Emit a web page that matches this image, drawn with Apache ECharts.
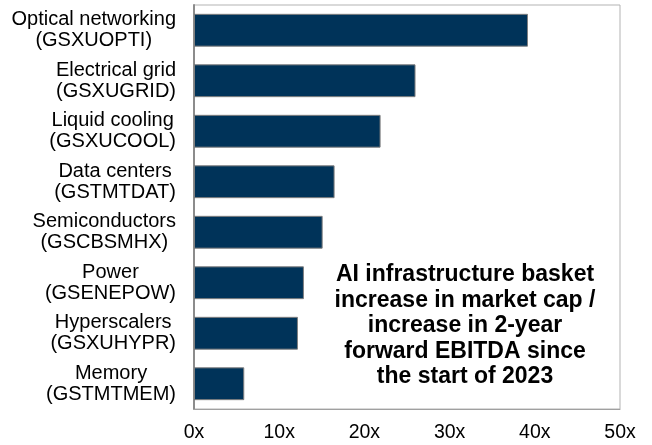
<!DOCTYPE html>
<html>
<head>
<meta charset="utf-8">
<script src="https://cdn.jsdelivr.net/npm/echarts@6/dist/echarts.min.js"></script>
<style>html,body{margin:0;padding:0;background:#fff}#c{width:652px;height:445px}</style>
</head>
<body>
<div id="c"></div>
<script>
const categories = ['Optical networking', 'Electrical grid', 'Liquid cooling', 'Data centers', 'Semiconductors', 'Power', 'Hyperscalers', 'Memory'];
const tickers = ['(GSXUOPTI)', '(GSXUGRID)', '(GSXUCOOL)', '(GSTMTDAT)', '(GSCBSMHX)', '(GSENEPOW)', '(GSXUHYPR)', '(GSTMTMEM)'];
const values = [39.2, 26.0, 21.9, 16.5, 15.1, 12.9, 12.2, 5.9];
const xTicks = { min: 0, max: 50, interval: 10, suffix: 'x' };
const annotation = ['AI infrastructure basket', 'increase in market cap /', 'increase in 2-year', 'forward EBITDA since', 'the start of 2023'];

const chart = echarts.init(document.getElementById('c'), null, { renderer: 'canvas' });
const labels = categories.map((c, i) => c + '\n' + tickers[i]);
chart.setOption({
  animation: false,
  grid: { left: 194, top: 5, right: 32, bottom: 36, show: true, borderColor: '#b3b3b3', borderWidth: 1, containLabel: false },
  xAxis: {
    type: 'value', min: xTicks.min, max: xTicks.max, interval: xTicks.interval,
    axisLine: { show: true, lineStyle: { color: '#a0a0a0', width: 1 } },
    axisTick: { show: false },
    splitLine: { show: false },
    axisLabel: { formatter: v => v + xTicks.suffix, color: '#000', fontSize: 19.5, fontFamily: 'Liberation Sans, Arial, sans-serif', margin: 14 }
  },
  yAxis: {
    type: 'category', data: labels, inverse: true,
    axisLine: { show: true, lineStyle: { color: '#8c8c8c', width: 2 } },
    axisTick: { show: false },
    axisLabel: {
      margin: 18, align: 'right',
      formatter: v => v.split('\n').map(s => '{a|' + s + '}').join('\n'),
      rich: { a: { align: 'center', fontSize: 20, lineHeight: 21, color: '#000', fontFamily: 'Liberation Sans, Arial, sans-serif' } }
    }
  },
  series: [{
    type: 'bar', data: values, barCategoryGap: '35%',
    itemStyle: { color: '#003359', borderColor: '#7f7f7f', borderWidth: 1 }
  }],
  graphic: [{
    type: 'text', x: 465, y: 262,
    style: {
      text: annotation.join('\n'), align: 'center', verticalAlign: 'top',
      font: 'bold 23px "Liberation Sans", Arial, sans-serif', lineHeight: 25.5, fill: '#000'
    }
  }]
});
</script>
</body>
</html>
